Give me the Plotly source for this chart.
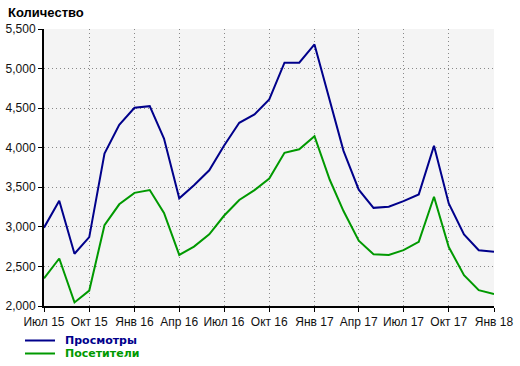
import plotly.graph_objects as go

months = ["2015-07-01", "2015-08-01", "2015-09-01", "2015-10-01", "2015-11-01", "2015-12-01",
          "2016-01-01", "2016-02-01", "2016-03-01", "2016-04-01", "2016-05-01", "2016-06-01",
          "2016-07-01", "2016-08-01", "2016-09-01", "2016-10-01", "2016-11-01", "2016-12-01",
          "2017-01-01", "2017-02-01", "2017-03-01", "2017-04-01", "2017-05-01", "2017-06-01",
          "2017-07-01", "2017-08-01", "2017-09-01", "2017-10-01", "2017-11-01", "2017-12-01",
          "2018-01-01"]

views = [2990, 3330, 2660, 2870, 3925, 4290, 4505, 4525, 4115, 3360, 3525, 3715,
         4025, 4315, 4420, 4610, 5075, 5075, 5305, 4590, 3960, 3470, 3240, 3255,
         3325, 3410, 4025, 3295, 2905, 2705, 2685]

visitors = [2350, 2600, 2045, 2195, 3020, 3285, 3430, 3465, 3175, 2645, 2750, 2905,
            3140, 3340, 3465, 3610, 3935, 3980, 4145, 3595, 3200, 2825, 2655, 2645,
            2705, 2810, 3380, 2745, 2390, 2200, 2150]

series_names = ["Просмотры", "Посетители"]
series_colors = ["#00008b", "#009900"]

tick_vals = ["2015-07-01", "2015-10-01", "2016-01-01", "2016-04-01", "2016-07-01", "2016-10-01",
             "2017-01-01", "2017-04-01", "2017-07-01", "2017-10-01", "2018-01-01"]
tick_text = ["Июл 15", "Окт 15", "Янв 16", "Апр 16", "Июл 16", "Окт 16",
             "Янв 17", "Апр 17", "Июл 17", "Окт 17", "Янв 18"]

y_ticks = [2000, 2500, 3000, 3500, 4000, 4500, 5000, 5500]

W, H = 520, 366
L, R, T, B = 44, 26, 29, 60
PW, PH = W - L - R, H - T - B

def px_x(p):
    return (p - L) / PW

def px_y(p):
    return (H - B - p) / PH

fig = go.Figure()
for vals, nm, col in zip([views, visitors], series_names, series_colors):
    fig.add_trace(go.Scatter(x=months, y=vals, mode="lines",
                             line=dict(color=col, width=2), name=nm,
                             showlegend=False))

# manual legend (compact, as in the reference)
legend_rows = [340.5, 353.5]
for nm, col, yy in zip(series_names, series_colors, legend_rows):
    fig.add_shape(type="line", xref="paper", yref="paper",
                  x0=px_x(25), x1=px_x(55), y0=px_y(yy), y1=px_y(yy),
                  line=dict(color=col, width=2))
    fig.add_annotation(xref="paper", yref="paper", x=px_x(64), y=px_y(yy),
                       xanchor="left", yanchor="middle", showarrow=False,
                       text="<b>" + nm + "</b>", borderpad=0,
                       font=dict(family="DejaVu Sans, Verdana, sans-serif", size=11, color=col))

fig.update_layout(
    width=W, height=H,
    margin=dict(l=L, r=R, t=T, b=B, autoexpand=False),
    paper_bgcolor="white",
    plot_bgcolor="#f4f4f4",
    font=dict(family="Liberation Sans, Arial, sans-serif", size=12, color="#111111"),
    showlegend=False,
    title=dict(text="<b>Количество</b>", x=8/W, xref="container", xanchor="left",
               y=1-12/H, yref="container", yanchor="middle",
               font=dict(size=13, color="#000000")),
)

fig.update_xaxes(
    range=["2015-07-01", "2018-01-01"], automargin=False,
    tickvals=tick_vals, ticktext=tick_text,
    showgrid=True, gridcolor="#888888", griddash="1px,3px", gridwidth=1,
    showline=True, linecolor="black", linewidth=2,
    ticks="outside", ticklen=4, tickcolor="black", tickwidth=1,
    zeroline=False,
)
fig.update_yaxes(
    range=[2000, 5500], automargin=False,
    tickvals=y_ticks, tickformat=",d",
    showgrid=True, gridcolor="#888888", griddash="1px,3px", gridwidth=1,
    showline=True, linecolor="black", linewidth=2,
    ticks="outside", ticklen=4, tickcolor="black", tickwidth=1,
    zeroline=False,
)

fig.write_html("out.html", config={"displayModeBar": False},
               post_script="document.body.style.margin='0';")
